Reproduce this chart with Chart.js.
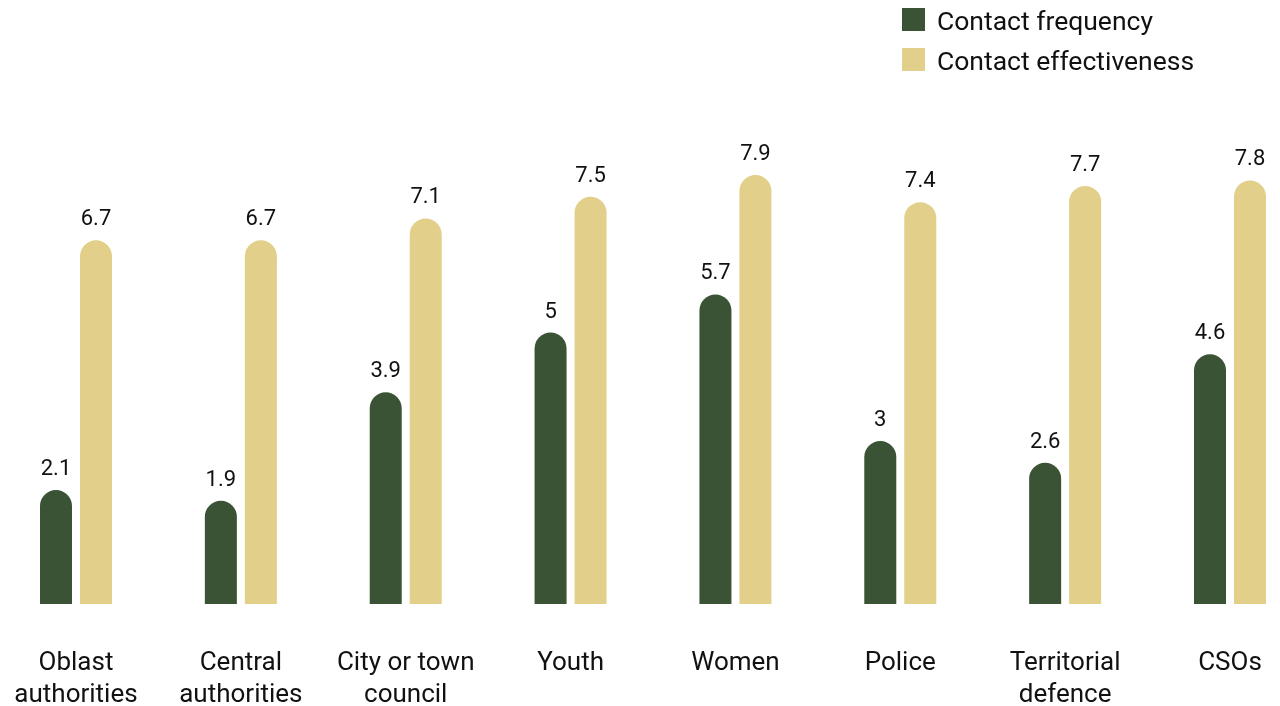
<!DOCTYPE html>
<html>
<head>
<meta charset="utf-8">
<script src="https://cdn.jsdelivr.net/npm/chart.js@4.4.1/dist/chart.umd.min.js"></script>
<style>
  html, body { margin: 0; padding: 0; background: #fff; }
  #wrap { position: relative; width: 1280px; height: 706px; }
  #legend { position: absolute; left: 902px; top: 8px; font-family: Roboto, sans-serif; font-size: 26.5px; color: #111; }
  .item { display: flex; align-items: center; height: 23px; margin-bottom: 17px; }
  .box { width: 23px; height: 23px; margin-right: 12px; flex: none; }
  .item span { position: relative; top: 1px; }
</style>
</head>
<body>
<div id="wrap">
  <canvas id="chart" width="1280" height="706"></canvas>
  <div id="legend"></div>
</div>
<script>
// categories and values
const categories = [
    ['Oblast', 'authorities'],
    ['Central', 'authorities'],
    ['City or town', 'council'],
    'Youth',
    'Women',
    'Police',
    ['Territorial', 'defence'],
    'CSOs'
];
const frequency = [2.1, 1.9, 3.9, 5, 5.7, 3, 2.6, 4.6];
const effectiveness = [6.7, 6.7, 7.1, 7.5, 7.9, 7.4, 7.7, 7.8];
const seriesNames = ['Contact frequency', 'Contact effectiveness'];
const colors = ['#3a5335', '#e1cf8a'];

// value labels above each bar
const valueLabels = {
    id: 'valueLabels',
    afterDatasetsDraw(chart) {
        const ctx = chart.ctx;
        ctx.save();
        ctx.font = '22px Roboto';
        ctx.fillStyle = '#111';
        ctx.textAlign = 'center';
        ctx.textBaseline = 'alphabetic';
        chart.data.datasets.forEach((ds, i) => {
            chart.getDatasetMeta(i).data.forEach((bar, j) => {
                ctx.fillText(String(ds.data[j]), bar.x, bar.y - 15);
            });
        });
        ctx.restore();
    }
};

const ctx = document.getElementById('chart').getContext('2d');
new Chart(ctx, {
    type: 'bar',
    data: {
        labels: categories,
        datasets: [frequency, effectiveness].map((d, i) => ({
            label: seriesNames[i],
            data: d,
            backgroundColor: colors[i],
            borderRadius: { topLeft: 16, topRight: 16 },
            borderSkipped: 'bottom',
            categoryPercentage: 0.4853,
            barPercentage: 0.8,
            clip: false
        }))
    },
    options: {
        responsive: false,
        animation: false,
        layout: { padding: { left: 76, right: 50, top: 61, bottom: 0 } },
        plugins: {
            legend: { display: false },
            tooltip: { enabled: false }
        },
        scales: {
            x: {
                offset: false,
                grid: { display: false, drawTicks: false },
                border: { display: false },
                ticks: {
                    color: '#111',
                    font: { family: 'Roboto', size: 26, lineHeight: 1.23 },
                    padding: 44,
                    maxRotation: 0,
                    autoSkip: false
                },
                afterFit(scale) {
                    scale.height = 102;
                    scale.paddingLeft = 0;
                    scale.paddingRight = 0;
                }
            },
            y: {
                display: false,
                min: 0,
                max: 10
            }
        }
    },
    plugins: [valueLabels]
});

// legend stacked top right
const legend = document.getElementById('legend');
seriesNames.forEach((name, i) => {
    const row = document.createElement('div');
    row.className = 'item';
    const box = document.createElement('div');
    box.className = 'box';
    box.style.background = colors[i];
    const txt = document.createElement('span');
    txt.textContent = name;
    row.appendChild(box);
    row.appendChild(txt);
    legend.appendChild(row);
});
</script>
</body>
</html>
